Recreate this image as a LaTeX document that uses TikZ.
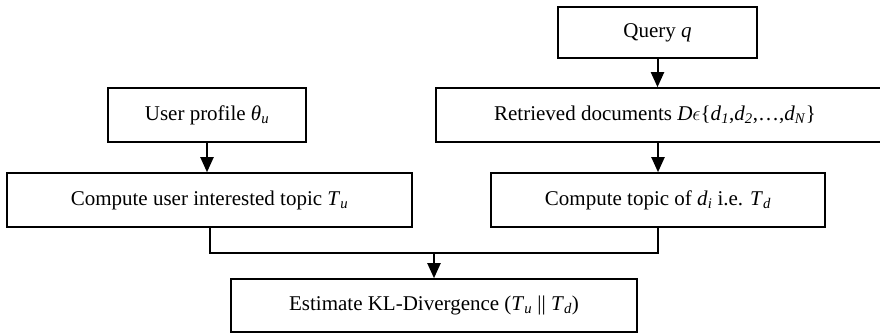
\documentclass[tikz,border=0pt]{standalone}
\usepackage{fontspec}
\setmainfont{Liberation Serif}
\usepackage{tikz}
\usetikzlibrary{arrows.meta}

\tikzset{
  stage/.style={draw, line width=1.6pt, minimum height=#1, inner sep=0pt, align=center},
  stage/.default=54pt,
  flow/.style={line width=2pt, -{Triangle[width=13pt,length=15pt]}}
}

\newcommand{\iv}[1]{\textit{#1}}
\newcommand{\isub}[2]{\textit{#1}\textsubscript{\textit{#2}}}

\begin{document}
\begin{tikzpicture}[x=1pt, y=-1pt, font=\fontsize{21}{25}\selectfont]

\useasboundingbox (0,0) rectangle (880,333);

\node[stage=51pt, minimum width=199pt] (query) at (657.5,32.5) {Query \iv{q}};
% box runs past the right edge of the page
\node[stage, minimum width=464pt] (docs) at (668,115) {};
\node (docslabel) at (655,115)
  {Retrieved documents \iv{D}$\epsilon$\{\isub{d}{1},\isub{d}{2},\ldots,\isub{d}{N}\}};
\node[stage, minimum width=198pt] (profile) at (207,115) {User profile \isub{θ}{u}};

\node[stage, minimum width=405pt] (utopic) at (209.5,200) {Compute user interested topic \isub{T}{u}};
\node[stage, minimum width=334pt] (dtopic) at (658,200) {Compute topic of \isub{d}{i} i.e. \isub{T}{d}};

\node[stage=53pt, minimum width=406pt] (kl) at (434,305.5)
  {Estimate KL-Divergence (\isub{T}{u} || \isub{T}{d})};

\coordinate (join) at (434,253);

\draw[flow] (query.south) -- (query.south |- docs.north);
\draw[flow] (docs.south -| dtopic.north) -- (dtopic.north);
\draw[flow] (profile.south) -- (profile.south |- utopic.north);

\draw[line width=2pt] (utopic.south) |- (join) -| (dtopic.south);
\draw[flow] (join) -- (kl.north);

\end{tikzpicture}
\end{document}
